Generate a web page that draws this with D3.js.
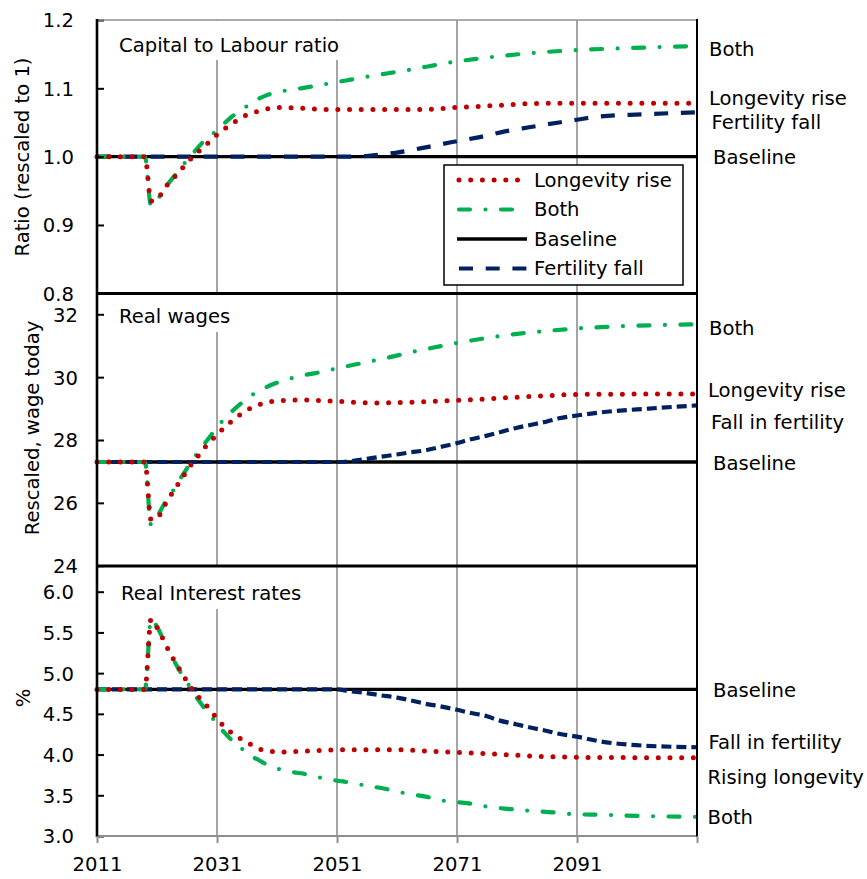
<!DOCTYPE html>
<html><head><meta charset="utf-8">
<script src="https://cdn.jsdelivr.net/npm/d3@7"></script>
<style>
body{margin:0;background:#fff}
svg{display:block}
text{font-family:"DejaVu Sans",Verdana,sans-serif;font-size:19.6px;fill:#000}
</style>
</head><body>
<svg id="chart" width="867" height="879"></svg>
<script>
// ---------- DATA ----------
const xTickYears = [2011, 2031, 2051, 2071, 2091, 2111];
const xTickLabels = ["2011", "2031", "2051", "2071", "2091", ""];

// Panel 1: Capital to Labour ratio
const klTicks = [0.8, 0.9, 1.0, 1.1, 1.2];
const klBaseline = [[2011, 1.0], [2111, 1.0]];
const klLongevity = [[2011,1.0],[2019,1.0],[2020,0.935],[2021,0.937],[2022,0.950],[2023,0.962],[2024,0.971],[2025,0.981],[2026,0.991],[2027,1.0],[2028,1.008],[2029,1.016],[2030,1.024],[2031,1.032],[2032,1.039],[2033,1.045],[2034,1.051],[2035,1.057],[2036,1.061],[2037,1.064],[2038,1.067],[2039,1.069],[2040,1.071],[2042,1.072],[2045,1.071],[2050,1.069],[2058,1.069],[2065,1.069],[2071,1.072],[2078,1.075],[2085,1.078],[2091,1.078],[2100,1.078],[2111,1.078]];
const klBoth = [[2011,1.0],[2019,1.0],[2020,0.928],[2021,0.936],[2022,0.950],[2023,0.962],[2024,0.973],[2025,0.984],[2026,0.995],[2027,1.005],[2028,1.015],[2029,1.024],[2030,1.031],[2031,1.039],[2032,1.047],[2033,1.055],[2034,1.062],[2035,1.068],[2036,1.074],[2037,1.080],[2038,1.085],[2039,1.089],[2040,1.092],[2042,1.096],[2045,1.100],[2049,1.106],[2056,1.117],[2063,1.127],[2070,1.138],[2077,1.146],[2084,1.152],[2091,1.156],[2100,1.159],[2111,1.162]];
const klFertility = [[2011,1.0],[2053,1.0],[2055,1.0005],[2057,1.002],[2061,1.006],[2066,1.014],[2070,1.021],[2075,1.029],[2079,1.037],[2083,1.043],[2088,1.050],[2091,1.054],[2094,1.058],[2102,1.062],[2111,1.065]];

// Panel 2: Real wages
const wageTicks = [24, 26, 28, 30, 32];
const wageBaseline = [[2011, 27.3], [2111, 27.3]];
const wageLongevity = [[2011,27.3],[2019,27.3],[2020,25.47],[2021,25.5],[2022,25.83],[2023,26.15],[2024,26.45],[2025,26.73],[2026,27.02],[2027,27.3],[2028,27.52],[2029,27.77],[2030,27.97],[2031,28.17],[2032,28.36],[2033,28.53],[2034,28.68],[2035,28.83],[2036,28.95],[2037,29.05],[2038,29.12],[2039,29.18],[2040,29.22],[2041,29.24],[2043,29.27],[2046,29.27],[2050,29.24],[2054,29.2],[2058,29.18],[2063,29.2],[2068,29.24],[2072,29.27],[2079,29.34],[2086,29.41],[2091,29.45],[2100,29.46],[2111,29.46]];
const wageBoth = [[2011,27.3],[2019,27.3],[2020,25.3],[2021,25.55],[2022,25.9],[2023,26.2],[2024,26.48],[2025,26.8],[2026,27.1],[2027,27.38],[2028,27.66],[2029,27.9],[2030,28.15],[2031,28.42],[2032,28.62],[2033,28.82],[2034,29.0],[2035,29.16],[2036,29.32],[2037,29.45],[2038,29.57],[2039,29.66],[2040,29.75],[2041,29.82],[2042,29.88],[2044,30.0],[2048,30.15],[2051,30.28],[2058,30.56],[2065,30.86],[2072,31.12],[2079,31.33],[2086,31.47],[2091,31.55],[2100,31.63],[2111,31.68]];
const wageFertility = [[2011,27.3],[2052,27.3],[2053,27.32],[2056,27.40],[2058,27.46],[2061,27.54],[2063,27.6],[2066,27.68],[2068,27.77],[2071,27.9],[2073,28.01],[2076,28.14],[2078,28.24],[2081,28.39],[2083,28.47],[2086,28.59],[2088,28.69],[2091,28.78],[2095,28.88],[2103,29.0],[2111,29.1]];

// Panel 3: Real interest rates
const rateTicks = [3.0, 3.5, 4.0, 4.5, 5.0, 5.5, 6.0];
const rateBaseline = [[2011, 4.8], [2111, 4.8]];
const rateLongevity = [[2011,4.8],[2019,4.8],[2020,5.66],[2021,5.56],[2022,5.42],[2023,5.27],[2024,5.14],[2025,5.02],[2026,4.90],[2027,4.79],[2028,4.70],[2029,4.62],[2030,4.54],[2031,4.44],[2032,4.36],[2033,4.29],[2034,4.24],[2035,4.19],[2036,4.15],[2037,4.11],[2038,4.07],[2039,4.055],[2040,4.04],[2042,4.03],[2045,4.04],[2050,4.055],[2054,4.06],[2060,4.06],[2067,4.04],[2073,4.02],[2079,4.0],[2085,3.976],[2090,3.968],[2100,3.962],[2111,3.96]];
const rateBoth = [[2011,4.8],[2019,4.8],[2020,5.66],[2021,5.57],[2022,5.42],[2023,5.27],[2024,5.13],[2025,5.00],[2026,4.89],[2027,4.76],[2028,4.66],[2029,4.56],[2030,4.47],[2031,4.38],[2032,4.29],[2033,4.21],[2034,4.14],[2035,4.08],[2036,4.02],[2037,3.97],[2038,3.93],[2039,3.89],[2040,3.86],[2041,3.83],[2043,3.79],[2045,3.77],[2048,3.72],[2050,3.69],[2052,3.67],[2055,3.63],[2059,3.58],[2062,3.53],[2066,3.48],[2069,3.43],[2073,3.40],[2076,3.36],[2080,3.33],[2083,3.31],[2087,3.29],[2090,3.27],[2095,3.26],[2102,3.245],[2111,3.235]];
const rateFertility = [[2011,4.8],[2051,4.8],[2053,4.78],[2056,4.755],[2058,4.73],[2061,4.70],[2063,4.67],[2066,4.62],[2068,4.595],[2071,4.55],[2073,4.515],[2076,4.47],[2078,4.42],[2081,4.37],[2083,4.335],[2086,4.29],[2088,4.255],[2091,4.22],[2095,4.16],[2100,4.12],[2105,4.10],[2111,4.09]];

const legendNames = ["Longevity rise", "Both", "Baseline", "Fertility fall"];

// ---------- STYLES ----------
const RED = "#C00000", GREEN = "#00B050", NAVY = "#002060", GRID = "#8f8f8f";
const styles = {
  longevity: {stroke: RED, width: 5, dash: "0 11.7", cap: "round"},
  both: {stroke: GREEN, width: 4.2, dash: "11 15.5 0 15.5", cap: "round"},
  baseline: {stroke: "#000", width: 3.3, dash: null, cap: "butt"},
  fertility: {stroke: NAVY, width: 4.2, dash: "10 5", cap: "butt"}
};

const svg = d3.select("#chart");
const x = d3.scaleLinear().domain([2011, 2111]).range([97, 697]);

const panels = [
  {top: 20, bottom: 293.5, domain: [0.8, 1.2], range: [293.3, 20], ticks: klTicks, fmt: d3.format(".1f"), labelRight: 74,
   title: "Capital to Labour ratio", titleX: 119, titleY: 52, box: [110, 21, 240, 39],
   ylabel: "Ratio (rescaled to 1)", ylx: 22, yly: 157,
   data: {baseline: klBaseline, fertility: klFertility, both: klBoth, longevity: klLongevity}, navyDash: "14 12.7",
   side: [["Both", 709, 49], ["Longevity rise", 709, 98], ["Fertility fall", 711.5, 122.5], ["Baseline", 713, 157]]},
  {top: 293.5, bottom: 566, domain: [24, 32], range: [565.7, 314.3], ticks: wageTicks, fmt: d3.format("d"), labelRight: 78,
   title: "Real wages", titleX: 119, titleY: 323, box: [110, 295, 135, 37],
   ylabel: "Rescaled, wage today", ylx: 32, yly: 428,
   data: {baseline: wageBaseline, fertility: wageFertility, both: wageBoth, longevity: wageLongevity}, navyDash: "10 5",
   side: [["Both", 709, 328], ["Longevity rise", 708, 390], ["Fall in fertility", 711, 422.5], ["Baseline", 713, 463]]},
  {top: 566, bottom: 836, domain: [3, 6], range: [836, 591.7], ticks: rateTicks, fmt: d3.format(".1f"), labelRight: 74,
   title: "Real Interest rates", titleX: 121, titleY: 600, box: [113, 567, 200, 42],
   ylabel: "%", ylx: 23, yly: 698,
   data: {baseline: rateBaseline, fertility: rateFertility, both: rateBoth, longevity: rateLongevity}, navyDash: "10 5",
   side: [["Baseline", 713, 690.5], ["Fall in fertility", 708.5, 742.5], ["Rising longevity", 707.5, 777], ["Both", 707.5, 817]]}
];

// vertical gridlines
const gridG = svg.append("g");
panels.forEach(p => {
  gridG.selectAll(null).data([2031, 2051, 2071, 2091]).enter().append("line")
    .attr("x1", d => x(d)).attr("x2", d => x(d))
    .attr("y1", p.top).attr("y2", p.bottom)
    .attr("stroke", GRID).attr("stroke-width", 1.6);
});

// title boxes covering gridlines
panels.forEach(p => {
  svg.append("rect").attr("x", p.box[0]).attr("y", p.box[1]).attr("width", p.box[2]).attr("height", p.box[3]).attr("fill", "#fff");
  svg.append("text").attr("x", p.titleX).attr("y", p.titleY).text(p.title);
});

// series
panels.forEach(p => {
  const y = d3.scaleLinear().domain(p.domain).range(p.range);
  const line = d3.line().x(d => x(d[0])).y(d => y(d[1])).curve(d3.curveMonotoneX);
  ["baseline", "fertility", "both", "longevity"].forEach(k => {
    const s = styles[k];
    svg.append("path").datum(p.data[k]).attr("d", line)
      .attr("fill", "none").attr("stroke", s.stroke).attr("stroke-width", s.width)
      .attr("stroke-linecap", s.cap).attr("stroke-linejoin", "round")
      .attr("stroke-dasharray", k === "fertility" ? p.navyDash : s.dash);
  });
  const ax = svg.append("g").attr("transform", "translate(97,0)")
    .call(d3.axisLeft(y).tickValues(p.ticks).tickFormat(p.fmt).tickSizeInner(-7).tickSizeOuter(0).tickPadding(97 - p.labelRight));
  ax.select(".domain").remove();
  ax.selectAll(".tick line").attr("stroke", "#000").attr("stroke-width", 2);
  ax.selectAll(".tick text").attr("dy", "0.35em");
  ax.attr("font-size", null).attr("font-family", null);
  svg.append("text").attr("transform", `translate(${p.ylx},${p.yly}) rotate(-90)`)
    .attr("text-anchor", "middle").attr("dy", "0.35em").text(p.ylabel);
  p.side.forEach(s => {
    svg.append("text").attr("x", s[1]).attr("y", s[2]).attr("dy", "0.35em").text(s[0]);
  });
});

// frame lines
const frame = svg.append("g");
frame.append("line").attr("x1", 97).attr("x2", 697).attr("y1", 20).attr("y2", 20).attr("stroke", GRID).attr("stroke-width", 1.6);
frame.append("line").attr("x1", 97).attr("x2", 697).attr("y1", 836).attr("y2", 836).attr("stroke", GRID).attr("stroke-width", 2);
frame.append("line").attr("x1", 97).attr("x2", 697).attr("y1", 293.5).attr("y2", 293.5).attr("stroke", "#000").attr("stroke-width", 3);
frame.append("line").attr("x1", 97).attr("x2", 697).attr("y1", 566).attr("y2", 566).attr("stroke", "#000").attr("stroke-width", 3);
frame.append("line").attr("x1", 97).attr("x2", 97).attr("y1", 19).attr("y2", 837).attr("stroke", "#000").attr("stroke-width", 2.6);
frame.append("line").attr("x1", 697).attr("x2", 697).attr("y1", 19).attr("y2", 837).attr("stroke", "#000").attr("stroke-width", 2);

// x axis
const xa = svg.append("g").attr("transform", "translate(0,836)")
  .call(d3.axisBottom(x).tickValues(xTickYears).tickFormat((d, i) => xTickLabels[i]).tickSizeInner(7).tickSizeOuter(0).tickPadding(14));
xa.select(".domain").remove();
xa.selectAll(".tick line").attr("stroke", GRID).attr("stroke-width", 2);
xa.attr("font-size", null).attr("font-family", null);

// legend
const lg = svg.append("g");
lg.append("rect").attr("x", 444).attr("y", 165).attr("width", 239).attr("height", 120)
  .attr("fill", "#fff").attr("stroke", "#000").attr("stroke-width", 1.5);
const legendKeys = ["longevity", "both", "baseline", "fertility"];
const legendY = d3.scalePoint().domain(legendNames).range([180, 268.5]);
legendKeys.forEach((k, i) => {
  const s = styles[k];
  const yy = legendY(legendNames[i]);
  lg.append("line").attr("x1", k === "baseline" ? 457 : 459).attr("x2", 527).attr("y1", yy).attr("y2", yy)
    .attr("stroke", s.stroke).attr("stroke-width", s.width).attr("stroke-linecap", s.cap)
    .attr("stroke-dasharray", k === "fertility" ? "14 12.7" : s.dash);
  lg.append("text").attr("x", 534).attr("y", yy).attr("dy", "0.35em").text(legendNames[i]);
});
</script>
</body></html>
